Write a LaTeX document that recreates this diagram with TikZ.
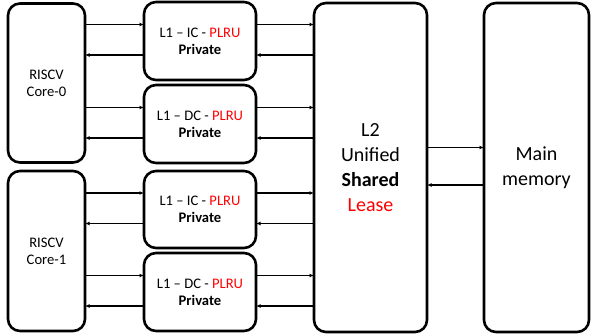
\documentclass[tikz,border=0pt]{standalone}
\usepackage{fontspec}
\setmainfont{Carlito}
\usetikzlibrary{arrows.meta}
\tikzset{
  block/.style={draw=black, line width=2.6pt, rounded corners=12pt, fill=white,
    inner sep=0pt, outer sep=0pt, align=center},
  smalltxt/.style={font=\fontsize{14.6}{16.8}\selectfont},
  bigtxt/.style={font=\fontsize{20}{25}\selectfont},
  link/.style={line width=1.2pt, -{Latex[length=4.5pt,width=4pt]}},
}
\begin{document}
\begin{tikzpicture}[x=1pt,y=-1pt]
\useasboundingbox (0,0) rectangle (591,335);

% processor cores
\node[block, smalltxt, minimum width=77pt, minimum height=159pt] (core0) at (46.5,83) {RISCV\\Core-0};
\node[block, smalltxt, minimum width=77pt, minimum height=160pt] (core1) at (46.5,251) {RISCV\\Core-1};

% private first-level caches
\node[block, smalltxt, minimum width=112pt, minimum height=78pt] (ic0) at (200,41)
  {L1 – IC - \textcolor{red}{PLRU}\\\textbf{Private}};
\node[block, smalltxt, minimum width=112pt, minimum height=78pt] (dc0) at (200,124)
  {L1 – DC - \textcolor{red}{PLRU}\\\textbf{Private}};
\node[block, smalltxt, minimum width=112pt, minimum height=77pt] (ic1) at (200,209.5)
  {L1 – IC - \textcolor{red}{PLRU}\\\textbf{Private}};
\node[block, smalltxt, minimum width=112pt, minimum height=78pt] (dc1) at (200,292)
  {L1 – DC - \textcolor{red}{PLRU}\\\textbf{Private}};

% shared second-level cache and memory
\node[block, bigtxt, minimum width=113pt, minimum height=329pt] (l2) at (370.5,167.5)
  {L2\\Unified\\\textbf{Shared}\\\textcolor{red}{Lease}};
\node[block, bigtxt, minimum width=105pt, minimum height=329pt] (mem) at (536.5,167.5)
  {Main\\memory};

% request / response pairs between core, L1 and L2
\foreach \c/\k in {core0/ic0, core0/dc0, core1/ic1, core1/dc1}{
  \coordinate (\k-up) at ([yshift=16.5pt]\k.west);
  \coordinate (\k-dn) at ([yshift=-14pt]\k.west);
  \coordinate (\k-upr) at ([yshift=16.5pt]\k.east);
  \coordinate (\k-dnr) at ([yshift=-14pt]\k.east);
  \draw[link] (\c.east |- \k-up) -- (\k-up);
  \draw[link] (\k-dn) -- (\c.east |- \k-dn);
  \draw[link] (\k-upr) -- (l2.west |- \k-upr);
  \draw[link] (l2.west |- \k-dnr) -- (\k-dnr);
}

% L2 <-> main memory
\coordinate (m-up) at ([yshift=20pt]mem.west);
\coordinate (m-dn) at ([yshift=-17.5pt]mem.west);
\draw[link] (l2.east |- m-up) -- (m-up);
\draw[link] (m-dn) -- (l2.east |- m-dn);
\end{tikzpicture}
\end{document}
